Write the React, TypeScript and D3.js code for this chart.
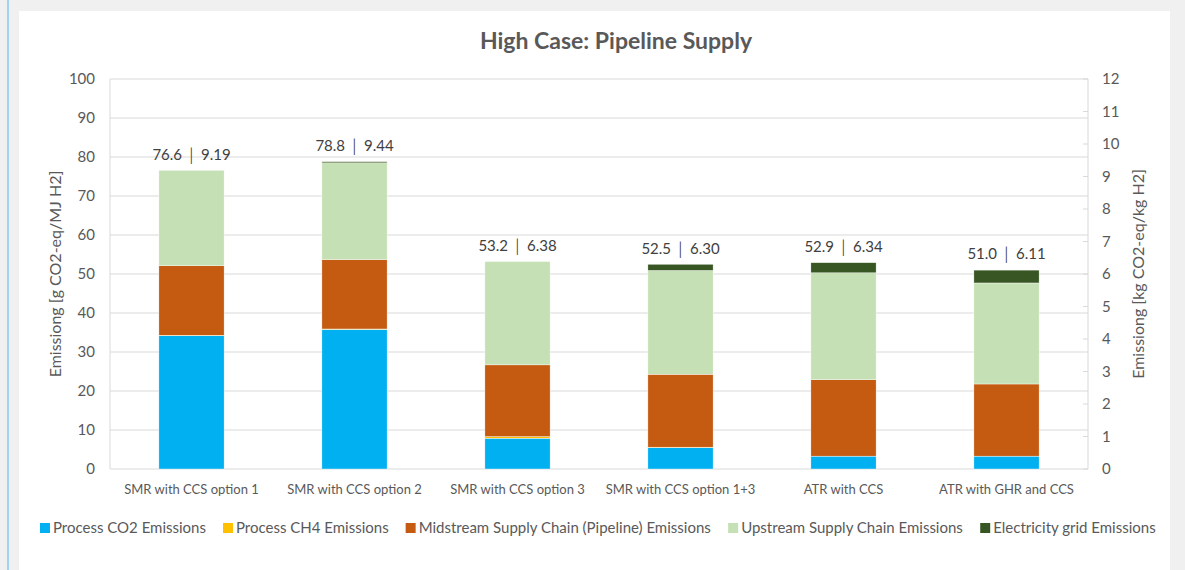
import React from "react";
import * as d3 from "d3";

// chart data
const categories = [
  "SMR with CCS option 1",
  "SMR with CCS option 2",
  "SMR with CCS option 3",
  "SMR with CCS option 1+3",
  "ATR with CCS",
  "ATR with GHR and CCS",
];
const processCO2 = [34.2, 35.8, 7.9, 5.5, 3.3, 3.3];
const processCH4 = [0.1, 0.1, 0.4, 0.1, 0.0, 0.0];
const midstream = [17.8, 17.8, 18.4, 18.7, 19.6, 18.5];
const upstream = [24.5, 24.8, 26.5, 26.6, 27.4, 25.9];
const electricity = [0.0, 0.3, 0.0, 1.6, 2.6, 3.3];
const totalMJ = ["76.6", "78.8", "53.2", "52.5", "52.9", "51.0"];
const totalKg = ["9.19", "9.44", "6.38", "6.30", "6.34", "6.11"];

const seriesNames = [
  "Process CO2 Emissions",
  "Process CH4 Emissions",
  "Midstream Supply Chain (Pipeline) Emissions",
  "Upstream Supply Chain Emissions",
  "Electricity grid Emissions",
];
const seriesKeys = ["co2", "ch4", "mid", "up", "elec"];
const seriesColors = ["#00B0F0", "#FFC000", "#C55A11", "#C5E0B4", "#375623"];

const leftTicks = [0, 10, 20, 30, 40, 50, 60, 70, 80, 90, 100];
const rightTicks = [0, 1, 2, 3, 4, 5, 6, 7, 8, 9, 10, 11, 12];

const W = 1185;
const H = 570;
const FONT = "Lato, 'Open Sans', sans-serif";
const TEXT = "#595959";

const measure = (() => {
  const c = document.createElement("canvas").getContext("2d");
  return (s: string, size: number) => {
    if (!c) return s.length * size * 0.5;
    c.font = `${size}px Lato`;
    return c.measureText(s).width;
  };
})();

export default function App() {
  const m = { left: 110, right: 97, top: 79, bottom: 101 };
  const x = d3
    .scaleBand()
    .domain(categories)
    .range([m.left, W - m.right])
    .paddingInner(0.6)
    .paddingOuter(0.3);
  const y = d3.scaleLinear().domain([0, 100]).range([H - m.bottom, m.top]);
  const y2 = d3.scaleLinear().domain([0, 12]).range([H - m.bottom, m.top]);

  const rows = categories.map((c, i) => ({
    cat: c,
    co2: processCO2[i],
    ch4: processCH4[i],
    mid: midstream[i],
    up: upstream[i],
    elec: electricity[i],
  }));
  const stacked = d3.stack<any>().keys(seriesKeys)(rows);

  const plotL = m.left;
  const plotR = W - m.right;
  const plotB = H - m.bottom;

  // legend layout
  const legSize = 15;
  const sw = 10;
  const gap = 17;
  const widths = seriesNames.map((n) => sw + 3 + measure(n, legSize));
  const legTotal = d3.sum(widths) + gap * (seriesNames.length - 1);
  let lx = 598 - legTotal / 2;
  const legX = widths.map((w) => {
    const v = lx;
    lx += w + gap;
    return v;
  });

  return (
    <div style={{ position: "fixed", left: 0, top: 0, width: W, height: H, background: "#f0f0f0" }}>
      <svg width={W} height={H} style={{ display: "block", fontFamily: FONT }}>
        <rect x={0} y={0} width={W} height={H} fill="#f0f0f0" />
        <rect x={7} y={0} width={2} height={H} fill="#9fd4ef" />
        <rect x={19} y={11} width={1151} height={H - 11} fill="#ffffff" />

        <text x={616} y={49} textAnchor="middle" fontSize={23} fontWeight="bold" fill={TEXT}>
          High Case: Pipeline Supply
        </text>

        {/* gridlines */}
        {leftTicks.map((t) => (
          <line key={"g" + t} x1={plotL} x2={plotR} y1={y(t)} y2={y(t)} stroke="#d9d9d9" strokeWidth={1.2} />
        ))}
        <line x1={plotL} x2={plotL} y1={m.top} y2={plotB} stroke="#d9d9d9" />
        <line x1={plotR} x2={plotR} y1={m.top} y2={plotB} stroke="#d9d9d9" />
        {rightTicks.map((t) => (
          <line key={"rt" + t} x1={plotR - 5} x2={plotR} y1={y2(t)} y2={y2(t)} stroke="#d9d9d9" />
        ))}

        {/* left ticks */}
        {leftTicks.map((t) => (
          <text key={"l" + t} x={95} y={y(t)} dy="0.35em" textAnchor="end" fontSize={15} fill={TEXT}>
            {t}
          </text>
        ))}
        {rightTicks.map((t) => (
          <text key={"r" + t} x={1102} y={y2(t)} dy="0.35em" textAnchor="start" fontSize={15} fill={TEXT}>
            {t}
          </text>
        ))}

        {/* bars */}
        {stacked.map((s, si) => (
          <g key={s.key} fill={seriesColors[si]}>
            {s.map((d, i) =>
              d[1] - d[0] > 0 ? (
                <rect
                  key={i}
                  x={x(categories[i])}
                  width={x.bandwidth()}
                  y={y(d[1])}
                  height={y(d[0]) - y(d[1])}
                  stroke="#ffffff"
                  strokeWidth={0.4}
                />
              ) : null
            )}
          </g>
        ))}

        {/* total labels */}
        {categories.map((c, i) => {
          const top = stacked[stacked.length - 1][i][1];
          return (
            <text
              key={"t" + c}
              x={(x(c) as number) + x.bandwidth() / 2}
              y={y(top) - 16}
              dy="0.35em"
              textAnchor="middle"
              fontSize={15}
              fill="#404040"
            >
              {`${totalMJ[i]} │ ${totalKg[i]}`}
            </text>
          );
        })}

        {/* category labels */}
        {categories.map((c) => (
          <text
            key={"c" + c}
            x={(x(c) as number) + x.bandwidth() / 2}
            y={489}
            dy="0.35em"
            textAnchor="middle"
            fontSize={13}
            fill={TEXT}
          >
            {c}
          </text>
        ))}

        {/* axis titles */}
        <text
          transform={`translate(55,${(m.top + plotB) / 2}) rotate(-90)`}
          textAnchor="middle"
          dy="0.35em"
          fontSize={16}
          fill={TEXT}
        >
          Emissiong [g CO2-eq/MJ H2]
        </text>
        <text
          transform={`translate(1138,${(m.top + plotB) / 2}) rotate(-90)`}
          textAnchor="middle"
          dy="0.35em"
          fontSize={16}
          fill={TEXT}
        >
          Emissiong [kg CO2-eq/kg H2]
        </text>

        {/* legend */}
        {seriesNames.map((n, i) => (
          <g key={n} transform={`translate(${legX[i]},528)`}>
            <rect x={0} y={-5} width={sw} height={sw} fill={seriesColors[i]} />
            <text x={sw + 3} y={0} dy="0.35em" fontSize={legSize} fill={TEXT}>
              {n}
            </text>
          </g>
        ))}
      </svg>
    </div>
  );
}
